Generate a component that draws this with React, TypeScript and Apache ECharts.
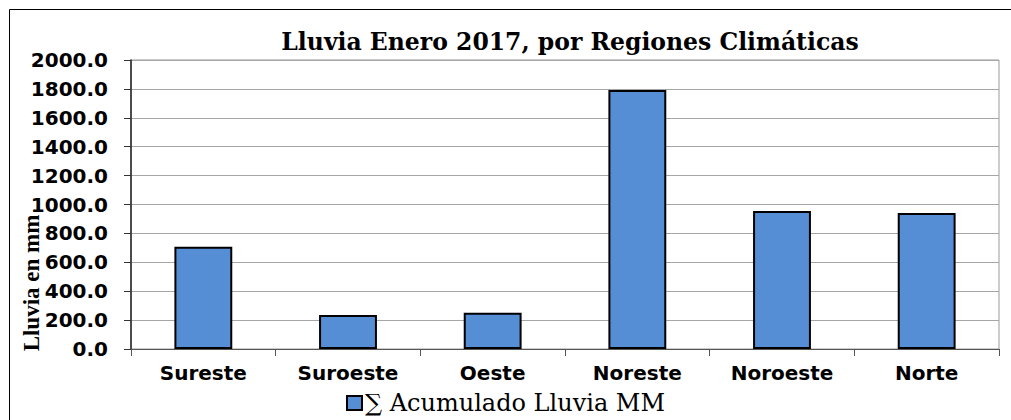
import React, { useEffect, useRef } from "react";
import * as echarts from "echarts";

const categories = ["Sureste", "Suroeste", "Oeste", "Noreste", "Noroeste", "Norte"];
const rainfall = [708, 235, 251, 1792, 955, 941];
const yTicks = { min: 0, max: 2000, interval: 200 };
const titleText = "Lluvia Enero 2017, por Regiones Climáticas";
const seriesName = "∑ Acumulado Lluvia MM";
const yAxisName = "Lluvia en mm";

export default function App() {
  const ref = useRef<HTMLDivElement>(null);
  useEffect(() => {
    document.body.style.margin = "0";
    const chart = echarts.init(ref.current!, null, { renderer: "svg" });
    chart.setOption({
      animation: false,
      backgroundColor: "#fff",
      title: {
        text: titleText,
        left: 565,
        textAlign: "center",
        top: 25,
        textStyle: { fontFamily: "DejaVu Serif", fontWeight: "bold", fontSize: 23.5, color: "#000" },
      },
      grid: {
        left: 131,
        top: 60,
        right: 12,
        bottom: 71,
        show: true,
        borderColor: "#999",
        borderWidth: 1,
      },
      legend: {
        data: [{ name: seriesName, icon: "rect" }],
        left: "center",
        top: 386,
        itemWidth: 15,
        itemHeight: 14,
        textStyle: { fontFamily: "DejaVu Serif", fontSize: 24, color: "#000", padding: [0, 0, 0, -2] },
      },
      xAxis: {
        type: "category",
        data: categories,
        axisLine: { lineStyle: { color: "#555", width: 1 } },
        axisTick: { show: true, length: 7, alignWithLabel: false, lineStyle: { color: "#555" } },
        axisLabel: {
          margin: 14,
          fontFamily: "DejaVu Sans",
          fontWeight: "bold",
          fontSize: 20,
          color: "#000",
        },
      },
      yAxis: {
        type: "value",
        min: yTicks.min,
        max: yTicks.max,
        interval: yTicks.interval,
        axisLine: { show: true, lineStyle: { color: "#222", width: 1.5 } },
        axisTick: { show: true, length: 7, lineStyle: { color: "#333" } },
        splitLine: { lineStyle: { color: "#a6a6a6", width: 1 } },
        axisLabel: {
          margin: 23,
          fontFamily: "DejaVu Sans",
          fontWeight: "bold",
          fontSize: 20,
          color: "#000",
          formatter: (v: number) => v.toFixed(1),
        },
      },
      graphic: [
        {
          type: "rect",
          shape: { x: 9.5, y: 9.5, width: 1200, height: 600 },
          style: { fill: "none", stroke: "#000", lineWidth: 1 },
          silent: true,
        },
        {
          type: "text",
          x: 31,
          y: 283,
          rotation: Math.PI / 2,
          style: {
            text: yAxisName,
            fontFamily: "Liberation Serif",
            fontWeight: "bold",
            fontSize: 23,
            fill: "#000",
            align: "center",
            verticalAlign: "middle",
          },
        },
      ],
      series: [
        {
          name: seriesName,
          type: "bar",
          data: rainfall,
          barWidth: "40%",
          itemStyle: { color: "#558ED5", borderColor: "#000", borderWidth: 2 },
        },
      ],
    });
    return () => chart.dispose();
  }, []);
  return <div ref={ref} style={{ width: 1011, height: 420 }} />;
}
